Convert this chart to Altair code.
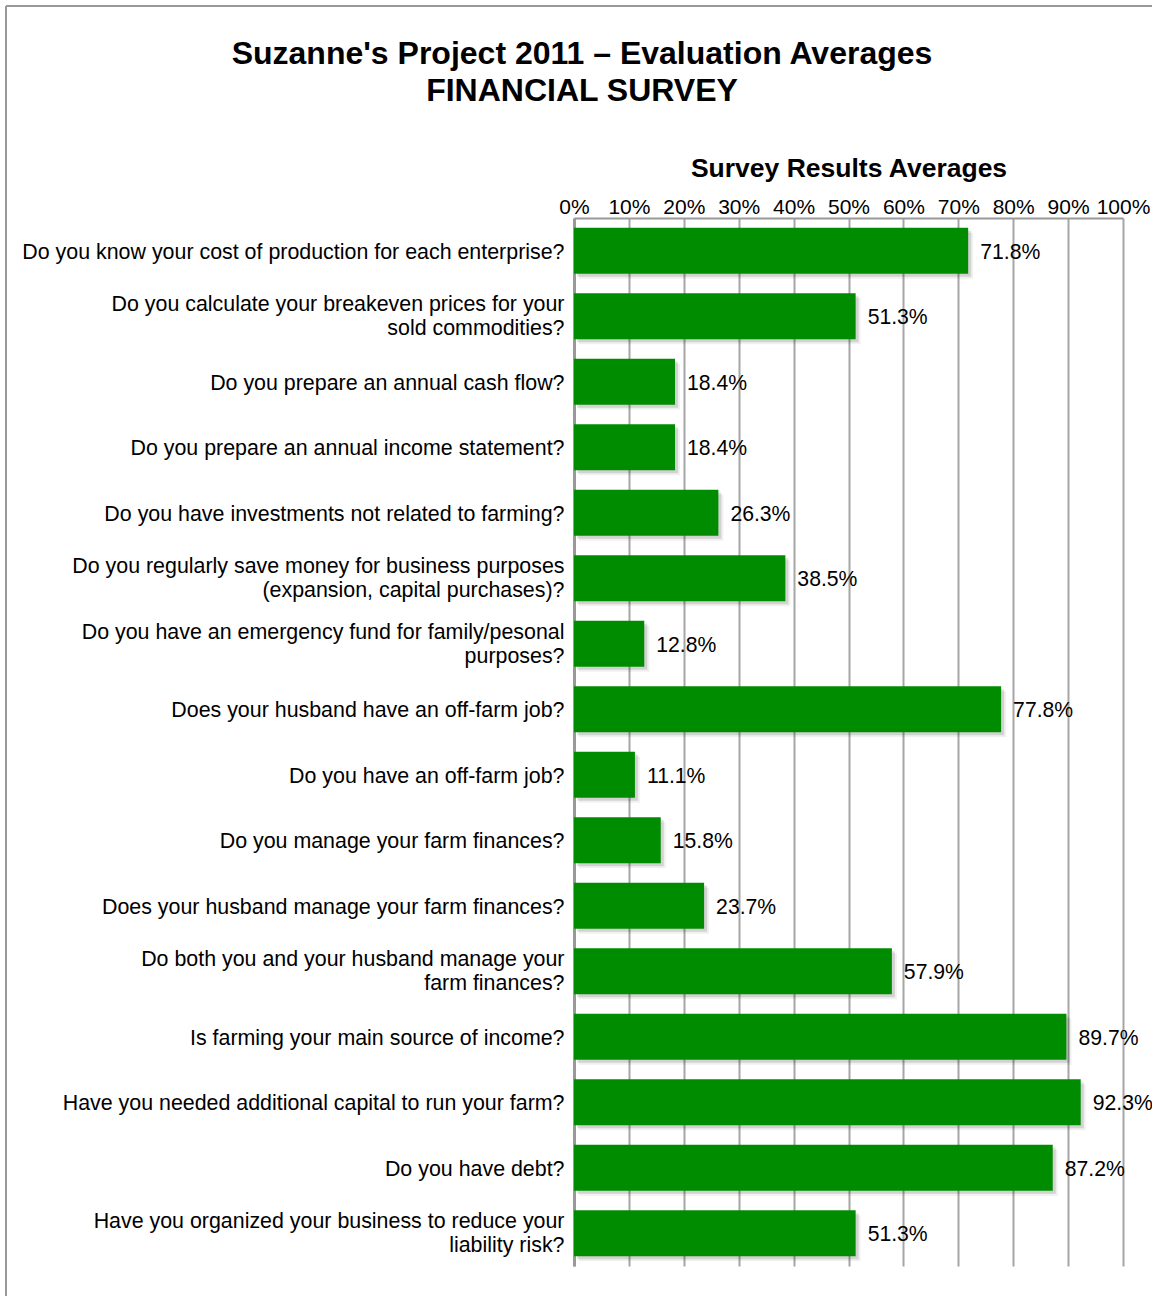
import altair as alt
import pandas as pd

questions = [
    "Do you know your cost of production for each enterprise?",
    "Do you calculate your breakeven prices for your|sold commodities?",
    "Do you prepare an annual cash flow?",
    "Do you prepare an annual income statement?",
    "Do you have investments not related to farming?",
    "Do you regularly save money for business purposes|(expansion, capital purchases)?",
    "Do you have an emergency fund for family/pesonal|purposes?",
    "Does your husband have an off-farm job?",
    "Do you have an off-farm job?",
    "Do you manage your farm finances?",
    "Does your husband manage your farm finances?",
    "Do both you and your husband manage your|farm finances?",
    "Is farming your main source of income?",
    "Have you needed additional capital to run your farm?",
    "Do you have debt?",
    "Have you organized your business to reduce your|liability risk?",
]
averages = [71.8, 51.3, 18.4, 18.4, 26.3, 38.5, 12.8, 77.8, 11.1, 15.8, 23.7, 57.9, 89.7, 92.3, 87.2, 51.3]
tick_values = [0, 0.1, 0.2, 0.3, 0.4, 0.5, 0.6, 0.7, 0.8, 0.9, 1.0]
title_lines = ["Suzanne's Project 2011 \u2013 Evaluation Averages", "FINANCIAL SURVEY"]
axis_title = "Survey Results Averages"

FONT = "Liberation Sans"
GREEN = "#008C00"
GRID = "#a6a6a6"

df = pd.DataFrame({"question": questions, "pct": averages})
df["v"] = df["pct"] / 100.0

W, H = 549, 1048
PAD_L, PAD_T = 574, 218

y_axis = alt.Axis(
    title=None,
    labelExpr="split(datum.value, '|')",
    labelFontSize=21.4,
    labelFont=FONT,
    labelColor="black",
    labelLineHeight=24,
    labelPadding=10,
    labelLimit=1000,
    labelOffset={"condition": {"test": "indexof(datum.value, '|') >= 0", "value": -11}, "value": 2},
    ticks=False,
    domain=True,
    domainColor="#999999",
    domainWidth=3,
    grid=False,
)
y_scale = alt.Scale(paddingInner=0.3, paddingOuter=0.15)

x_scale = alt.Scale(domain=[0, 1], nice=False, zero=True)
x_axis = alt.Axis(
    orient="top",
    values=tick_values,
    format=".0%",
    title=axis_title,
    titleFont=FONT,
    titleFontSize=26.5,
    titleFontWeight="bold",
    titleColor="black",
    titlePadding=14,
    labelFont=FONT,
    labelFontSize=21,
    labelColor="black",
    labelPadding=1,
    labelOverlap=False,
    labelFlush=False,
    ticks=False,
    domain=True,
    domainColor="#999999",
    domainWidth=2,
    grid=True,
    gridColor=GRID,
    gridWidth=2,
)

base = alt.Chart(df)

shadow2 = base.mark_bar(color="#000000", opacity=0.06, xOffset=5, yOffset=5).encode(
    x=alt.X("v:Q", scale=x_scale, axis=x_axis),
    y=alt.Y("question:N", sort=questions, scale=y_scale, axis=y_axis),
)
shadow1 = base.mark_bar(color="#000000", opacity=0.12, xOffset=3, yOffset=3).encode(
    x=alt.X("v:Q", scale=x_scale),
    y=alt.Y("question:N", sort=questions),
)
bars = base.mark_bar(color=GREEN).encode(
    x=alt.X("v:Q", scale=x_scale),
    y=alt.Y("question:N", sort=questions),
)

labels = base.mark_text(
    align="left", baseline="middle", dx=12, dy=2, fontSize=21.2, font=FONT, color="black"
).encode(
    x=alt.X("v:Q", scale=x_scale),
    y=alt.Y("question:N", sort=questions),
    text=alt.Text("v:Q", format=".1%"),
)

tdf = pd.DataFrame({"line": title_lines, "i": list(range(len(title_lines)))})
titles = alt.Chart(tdf).mark_text(
    align="center", baseline="middle", fontSize=32, fontWeight="bold", font=FONT, color="black"
).encode(
    x=alt.value(582 - PAD_L),
    y=alt.value(54 - PAD_T),
    text="line:N",
).transform_filter("datum.i == 0")
titles2 = alt.Chart(tdf).mark_text(
    align="center", baseline="middle", fontSize=32, fontWeight="bold", font=FONT, color="black"
).encode(
    x=alt.value(582 - PAD_L),
    y=alt.value(91 - PAD_T),
    text="line:N",
).transform_filter("datum.i == 1")

frame_left = alt.Chart(tdf).mark_rule(color="#999999", strokeWidth=2).encode(
    x=alt.value(6 - PAD_L), y=alt.value(6 - PAD_T), y2=alt.value(1400)
).transform_filter("datum.i == 0")
frame_top = alt.Chart(tdf).mark_rule(color="#999999", strokeWidth=2).encode(
    x=alt.value(6 - PAD_L), x2=alt.value(1400), y=alt.value(6 - PAD_T)
).transform_filter("datum.i == 0")

chart = (
    alt.layer(shadow2, shadow1, bars, labels, titles, titles2, frame_left, frame_top)
    .properties(
        width=W,
        height=H,
        autosize=alt.AutoSizeParams(type="none"),
        padding={"left": PAD_L, "top": PAD_T, "right": 1152 - PAD_L - W, "bottom": 1296 - PAD_T - H},
        background="white",
    )
    .configure_view(stroke=None)
)

chart.save("out.html", embed_options={"renderer": "svg", "actions": False})
